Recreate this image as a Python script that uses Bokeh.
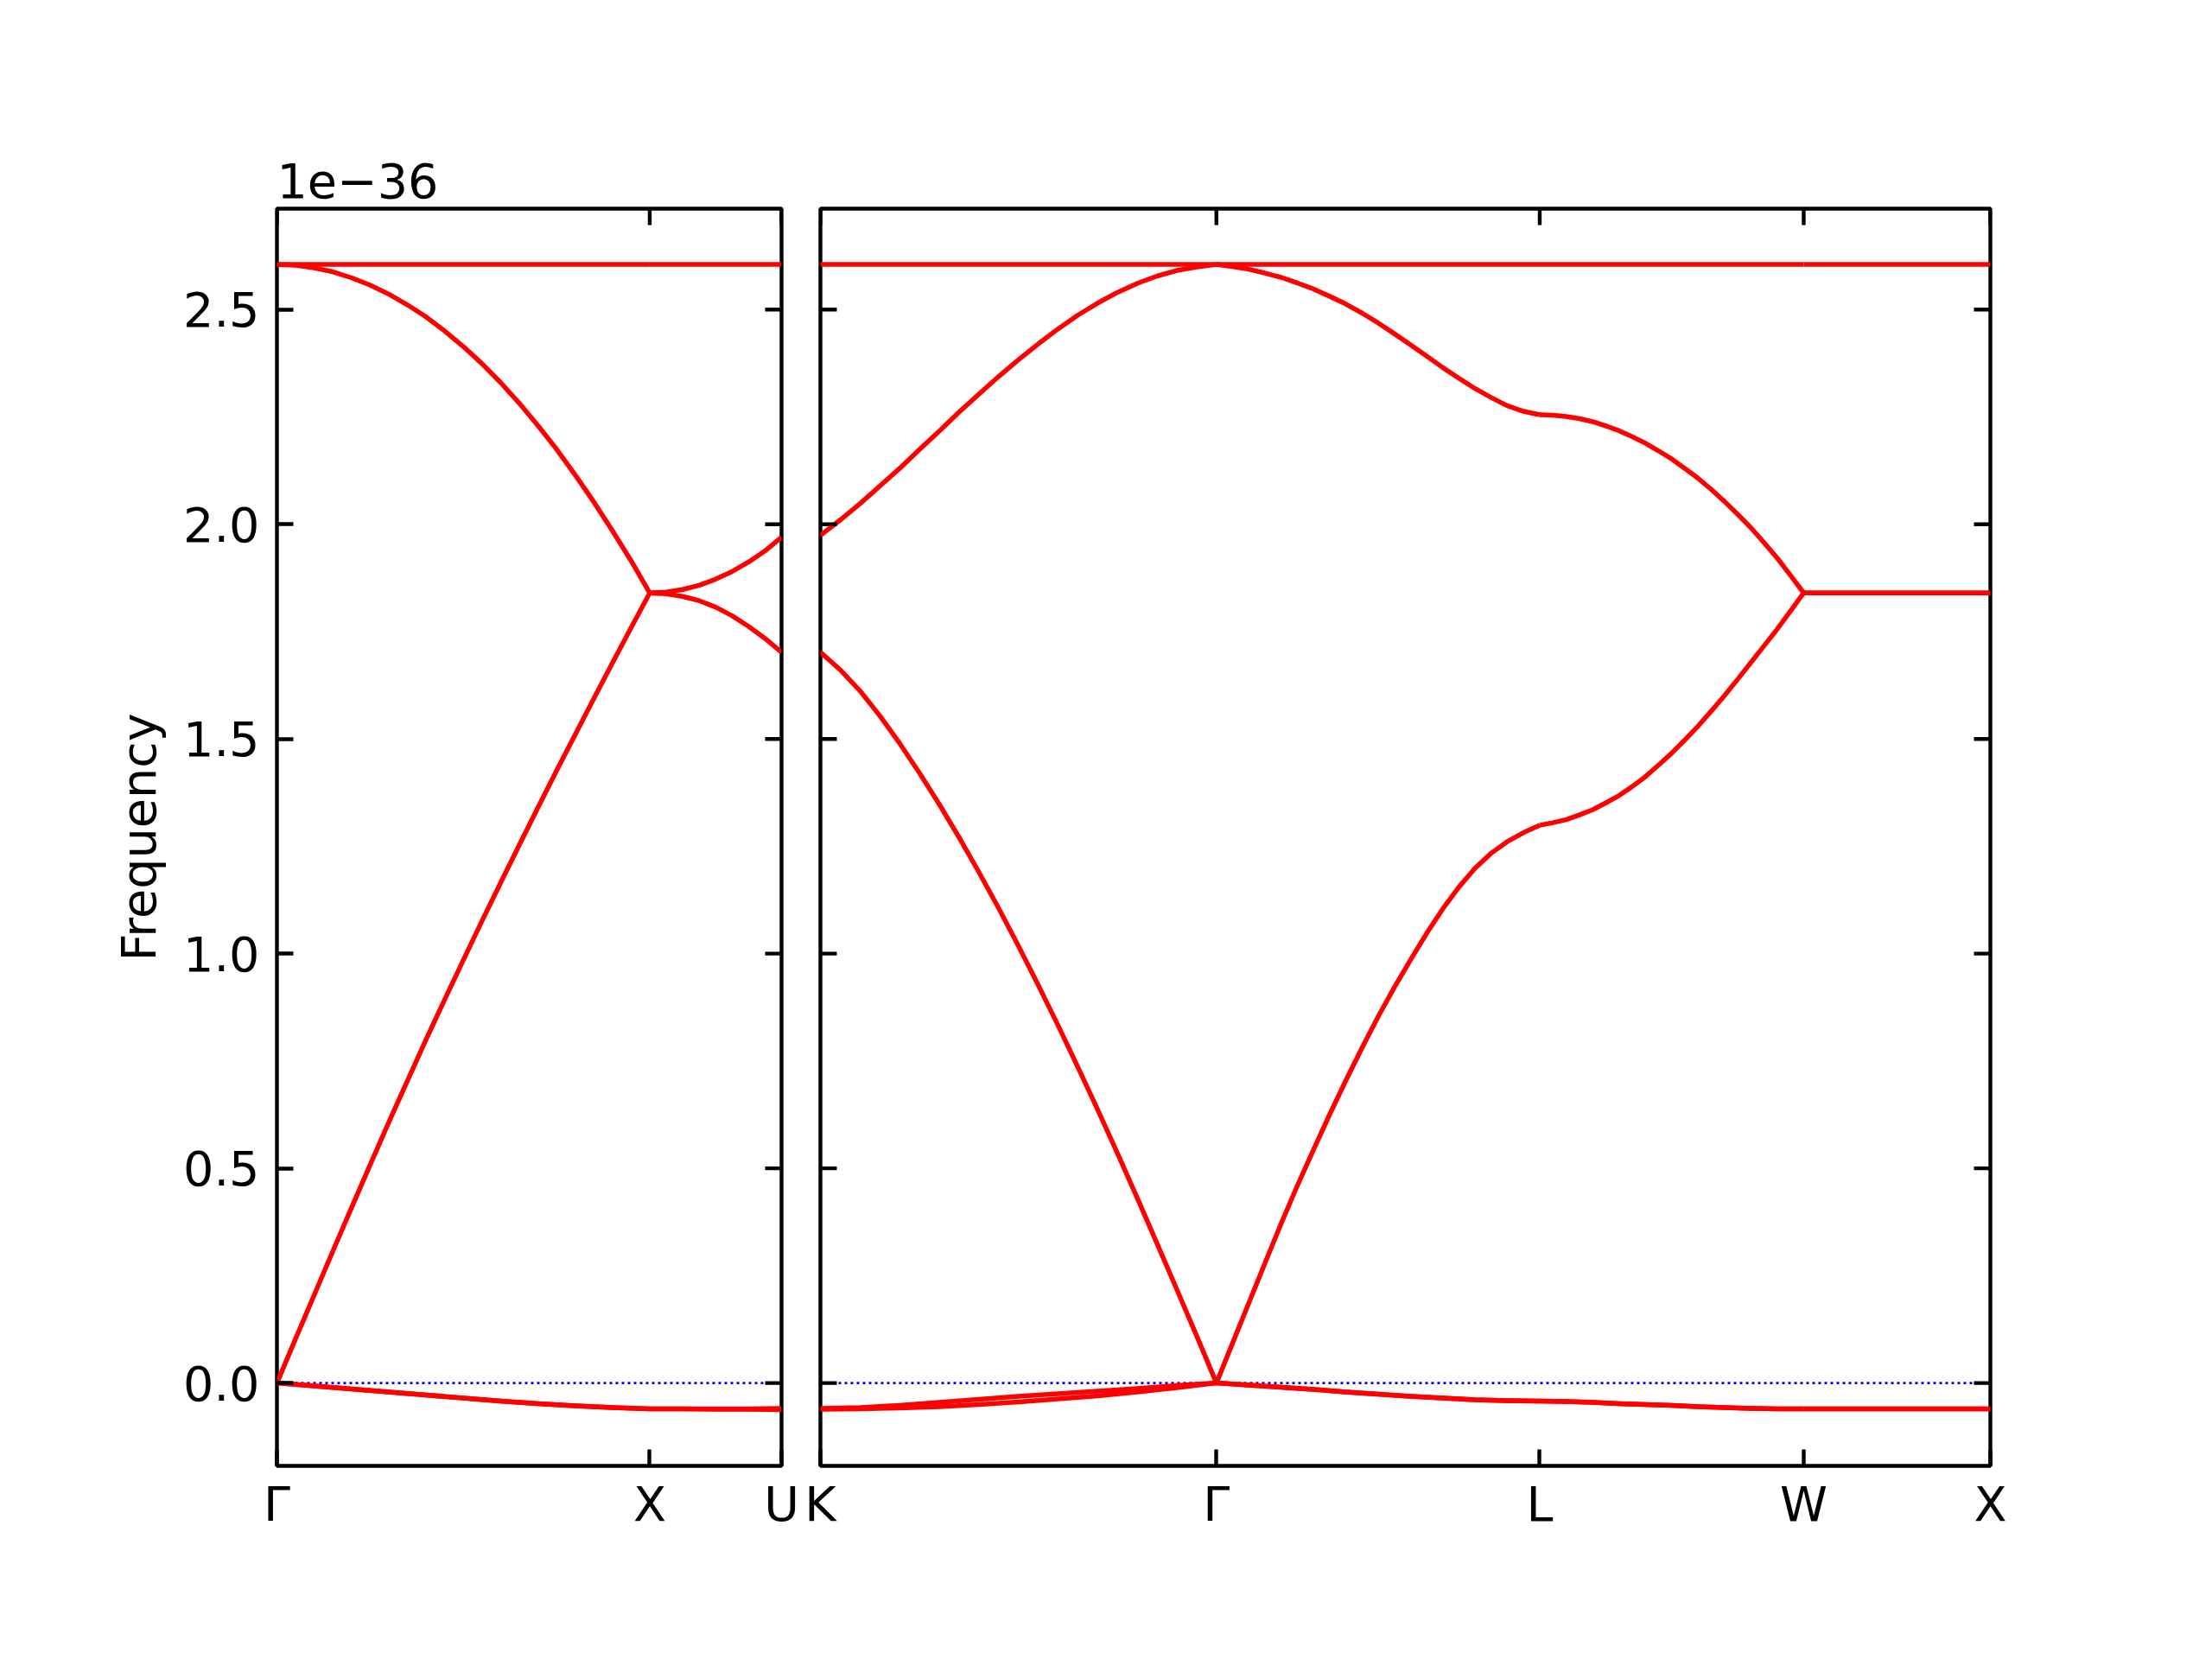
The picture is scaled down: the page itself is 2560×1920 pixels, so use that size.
import numpy as np
from bokeh.plotting import figure
from bokeh.models import (Range1d, FixedTicker, CustomJSTickFormatter, NumeralTickFormatter,
                          Span, Title)
from bokeh.layouts import row
from bokeh.embed import file_html
from bokeh.resources import INLINE

# ---------------- data (frequency in units of 1e-36) ----------------
offset_text = "1e\u221236"
y_label = "Frequency"
y_ticks = [0.0, 0.5, 1.0, 1.5, 2.0, 2.5]
y_limits = [-0.193, 2.735]

left_points = ["\u0393", "X", "U"]
left_segment_lengths = [1.0, 0.3536]
right_points = ["K", "\u0393", "L", "W", "X"]
right_segment_lengths = [1.0607, 0.8660, 0.7071, 0.5]

# Γ–X
gx_flat = [2.605, 2.605]
gx_desc = [2.605, 2.603, 2.597, 2.588, 2.574, 2.557, 2.536, 2.511, 2.483, 2.450, 2.414,
           2.374, 2.330, 2.282, 2.230, 2.175, 2.115, 2.052, 1.985, 1.915, 1.840]
gx_asc = [0.000, 0.103, 0.205, 0.307, 0.408, 0.508, 0.607, 0.704, 0.800, 0.893, 0.985,
          1.076, 1.165, 1.253, 1.340, 1.426, 1.510, 1.594, 1.677, 1.759, 1.840]
gx_neg = [0.000, -0.007, -0.014, -0.021, -0.028, -0.035, -0.042, -0.048, -0.053, -0.057, -0.060]
# X–U
xu_flat = [2.605, 2.605]
xu_upper = [1.840, 1.842, 1.848, 1.858, 1.872, 1.890, 1.912, 1.938, 1.970]
xu_lower = [1.840, 1.838, 1.832, 1.822, 1.807, 1.787, 1.762, 1.734, 1.702]
xu_neg_a = [-0.060, -0.060, -0.060, -0.060, -0.059]
xu_neg_b = [-0.060, -0.060, -0.061, -0.061, -0.062]

# K–Γ
kg_flat = [2.605, 2.605]
kg_upper = [1.974, 2.010, 2.048, 2.089, 2.130, 2.174, 2.217, 2.261, 2.303, 2.344, 2.383,
            2.420, 2.455, 2.487, 2.515, 2.540, 2.561, 2.578, 2.591, 2.599, 2.605]
kg_lower = [1.702, 1.661, 1.612, 1.554, 1.490, 1.421, 1.348, 1.271, 1.190, 1.106, 1.018,
            0.927, 0.833, 0.736, 0.637, 0.535, 0.431, 0.325, 0.218, 0.110, 0.000]
kg_neg_a = [-0.059, -0.057, -0.052, -0.045, -0.038, -0.031, -0.025, -0.019, -0.013, -0.006, 0.000]
kg_neg_b = [-0.061, -0.060, -0.058, -0.055, -0.050, -0.044, -0.037, -0.030, -0.021, -0.011, 0.000]
# Γ–L
gl_flat = [2.605, 2.605]
gl_upper = [2.605, 2.600, 2.594, 2.585, 2.575, 2.562, 2.548, 2.531, 2.513, 2.492, 2.469,
            2.444, 2.418, 2.392, 2.365, 2.340, 2.316, 2.295, 2.276, 2.263, 2.255]
gl_lower = [0.000, 0.093, 0.186, 0.279, 0.371, 0.459, 0.543, 0.625, 0.704, 0.780, 0.853,
            0.921, 0.985, 1.047, 1.104, 1.155, 1.199, 1.234, 1.261, 1.282, 1.299]
gl_neg = [0.000, -0.005, -0.010, -0.015, -0.021, -0.026, -0.031, -0.035, -0.039, -0.041, -0.042]
# L–W
lw_flat = [2.605, 2.605]
lw_upper = [2.255, 2.254, 2.251, 2.246, 2.239, 2.229, 2.218, 2.204, 2.189, 2.171, 2.152,
            2.130, 2.107, 2.081, 2.053, 2.023, 1.992, 1.957, 1.921, 1.881, 1.840]
lw_lower = [1.299, 1.305, 1.312, 1.323, 1.335, 1.351, 1.368, 1.389, 1.412, 1.439, 1.467,
            1.498, 1.530, 1.565, 1.601, 1.639, 1.678, 1.717, 1.756, 1.798, 1.840]
lw_neg = [-0.042, -0.043, -0.045, -0.048, -0.050, -0.052, -0.055, -0.057, -0.059, -0.060, -0.060]
# W–X
wx_flat = [2.605, 2.605]
wx_mid = [1.840, 1.840]
wx_neg = [-0.060, -0.060]

left_bands = [
    [gx_flat, xu_flat],
    [gx_desc, xu_upper],
    [gx_asc, xu_lower],
    [gx_neg, xu_neg_a],
    [gx_neg, xu_neg_b],
]
right_bands = [
    [kg_flat, gl_flat, lw_flat, wx_flat],
    [kg_upper, gl_upper, lw_upper, wx_mid],
    [kg_lower, gl_lower, lw_lower, wx_mid],
    [kg_neg_a, gl_neg, lw_neg, wx_neg],
    [kg_neg_b, gl_neg, lw_neg, wx_neg],
]

FONT = "DejaVu Sans"
FS = "55.6px"
TICK_LEN = 19
TICK_W = 4.4


def style_axis(ax, standoff):
    ax.axis_line_color = None
    ax.major_tick_in = TICK_LEN
    ax.major_tick_out = 0
    ax.major_tick_line_width = TICK_W
    ax.major_tick_line_color = "black"
    ax.minor_tick_line_color = None
    ax.major_label_text_font = FONT
    ax.major_label_text_color = "black"
    ax.major_label_text_font_size = FS
    ax.major_label_standoff = standoff


def make_panel(points, seg_lengths, bands, frame_width, border_left, border_right, first):
    cum = np.concatenate([[0.0], np.cumsum(seg_lengths)])
    cum = [float(round(c, 6)) for c in cum]
    p = figure(frame_width=frame_width, frame_height=1455,
               min_border_left=border_left, min_border_right=border_right,
               min_border_top=241, min_border_bottom=215,
               x_range=Range1d(cum[0], cum[-1]), y_range=Range1d(*y_limits),
               output_backend="svg", toolbar_location=None,
               background_fill_color="white", border_fill_color="white")
    p.grid.visible = False
    p.outline_line_color = "black"
    p.outline_line_width = TICK_W
    p.outline_line_alpha = 1.0

    p.xaxis.ticker = FixedTicker(ticks=cum)
    p.xaxis.formatter = CustomJSTickFormatter(
        args=dict(labels=points),
        code="return labels[index] === undefined ? '' : labels[index];")
    style_axis(p.xaxis[0], 11)

    if first:
        p.yaxis.ticker = FixedTicker(ticks=y_ticks)
        p.yaxis.formatter = NumeralTickFormatter(format="0.0")
        style_axis(p.yaxis[0], 20)
        p.yaxis[0].axis_label = y_label
        p.yaxis[0].axis_label_text_font = FONT
        p.yaxis[0].axis_label_text_font_size = FS
        p.yaxis[0].axis_label_text_font_style = "normal"
        p.yaxis[0].axis_label_text_color = "black"
        p.yaxis[0].axis_label_standoff = 16
        t = Title(text=offset_text, align="left", text_font=FONT, text_font_size=FS,
                  text_font_style="normal", text_color="black", standoff=26)
        p.add_layout(t, "above")
    else:
        p.yaxis.visible = False

    zero = Span(location=0.0, dimension="width", line_color="#0000ff",
                line_width=2.8, line_dash="3 4", level="underlay")
    p.add_layout(zero)

    xs, ys = [], []
    for band in bands:
        for i, seg in enumerate(band):
            xs.append(list(np.linspace(cum[i], cum[i + 1], len(seg))))
            ys.append(list(seg))
    p.multi_line(xs, ys, line_color="#ff0000", line_width=5.5, line_join="round")

    # inward ticks on the top edge and the right (and for the second panel left) edge
    p.scatter(x=cum, y=[y_limits[1]] * len(cum), marker="dash", size=2 * TICK_LEN,
              angle=np.pi / 2, line_color="black", line_width=TICK_W)
    p.scatter(x=[cum[-1]] * len(y_ticks), y=y_ticks, marker="dash", size=2 * TICK_LEN,
              line_color="black", line_width=TICK_W)
    if not first:
        p.scatter(x=[cum[0]] * len(y_ticks), y=y_ticks, marker="dash", size=2 * TICK_LEN,
                  line_color="black", line_width=TICK_W)
    return p


p1 = make_panel(left_points, left_segment_lengths, left_bands, 584, 320, 21, True)
p2 = make_panel(right_points, right_segment_lengths, right_bands, 1354, 24, 257, False)

layout = row(p1, p2)
open("out.html", "w").write(file_html(layout, INLINE))
